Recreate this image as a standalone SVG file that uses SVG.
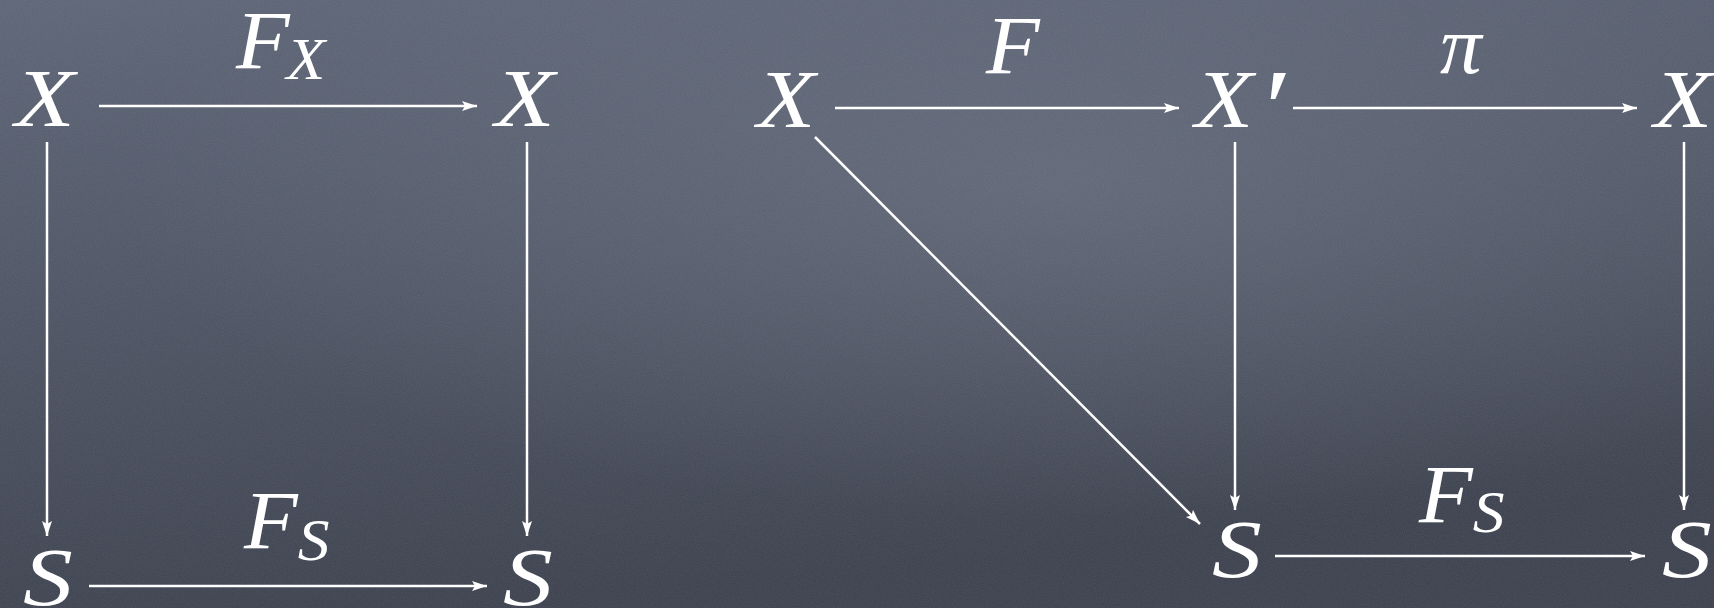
<svg xmlns="http://www.w3.org/2000/svg" width="1714" height="608" viewBox="0 0 1714 608">
<defs>
<linearGradient id="bg" x1="0" y1="0" x2="0.25" y2="1">
<stop offset="0" stop-color="#5b6375"/>
<stop offset="1" stop-color="#3a3f4c"/>
</linearGradient>
<radialGradient id="glow" cx="0.62" cy="0.3" r="0.55">
<stop offset="0" stop-color="#717888" stop-opacity="0.5"/>
<stop offset="1" stop-color="#717888" stop-opacity="0"/>
</radialGradient>
<filter id="noise" x="0" y="0" width="100%" height="100%">
<feTurbulence type="fractalNoise" baseFrequency="0.9" numOctaves="2" seed="3"/>
<feColorMatrix type="matrix" values="0 0 0 0 1  0 0 0 0 1  0 0 0 0 1  0 0 0 0.09 0"/>
</filter>
<marker id="ah" markerUnits="userSpaceOnUse" markerWidth="16" markerHeight="12" refX="15" refY="6" orient="auto">
<path d="M0,1 L15,6 L0,11 L3,6 z" fill="#ffffff"/>
</marker>
</defs>
<style>
text{font-family:"Liberation Serif","Times New Roman",serif;font-style:italic;font-weight:normal;fill:#ffffff;font-size:83px}
.sub{font-size:60px}
#connectors line{stroke:#ffffff;stroke-width:2.5;marker-end:url(#ah)}
</style>
<rect width="1714" height="608" fill="url(#bg)"/>
<rect width="1714" height="608" fill="url(#glow)"/>
<rect width="1714" height="608" filter="url(#noise)"/>

<g id="connectors">
<line x1="99" y1="106" x2="477" y2="106"/>
<line x1="89" y1="586" x2="487" y2="586"/>
<line x1="47" y1="142" x2="47" y2="536"/>
<line x1="527" y1="142" x2="527" y2="536"/>
<line x1="835" y1="108" x2="1179" y2="108"/>
<line x1="1293" y1="108" x2="1637" y2="108"/>
<line x1="815" y1="137" x2="1200" y2="524"/>
<line x1="1235" y1="142" x2="1235" y2="510"/>
<line x1="1684" y1="142" x2="1684" y2="510"/>
<line x1="1275" y1="556" x2="1645" y2="556"/>
</g>

<g id="labels">
<text transform="translate(236,68) scale(1.06,1)">F<tspan class="sub" dx="-3" dy="11">X</tspan></text>
<text transform="translate(244,548) scale(1.06,1)">F<tspan class="sub" dx="0" dy="12">S</tspan></text>
<text transform="translate(986,73) scale(1.06,1)">F</text>
<text x="1440" y="73">π</text>
<text transform="translate(1419,522) scale(1.06,1)">F<tspan class="sub" dx="0" dy="10">S</tspan></text>
</g>

<g id="node-X1"><text transform="translate(15,126) scale(1.18,1)">X</text></g>
<g id="node-X2"><text transform="translate(495,126) scale(1.18,1)">X</text></g>
<g id="node-S1"><text transform="translate(23,605) scale(1.2,1)">S</text></g>
<g id="node-S2"><text transform="translate(503,605) scale(1.2,1)">S</text></g>
<g id="node-X3"><text transform="translate(757,127) scale(1.15,1)">X</text></g>
<g id="node-Xp"><text transform="translate(1195,127) scale(1.15,1)">X<tspan font-size="110" dx="3" dy="18">′</tspan></text></g>
<g id="node-X5"><text transform="translate(1654,127) scale(1.15,1)">X</text></g>
<g id="node-S6"><text transform="translate(1212,577) scale(1.2,1)">S</text></g>
<g id="node-S7"><text transform="translate(1662,577) scale(1.2,1)">S</text></g>
</svg>
